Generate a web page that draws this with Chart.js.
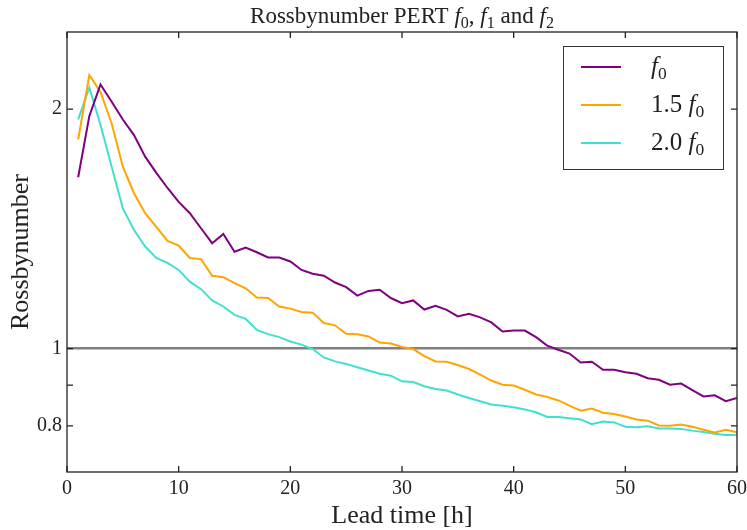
<!DOCTYPE html>
<html>
<head>
<meta charset="utf-8">
<script src="https://cdn.jsdelivr.net/npm/chart.js@4/dist/chart.umd.min.js"></script>
<style>
  html, body { margin: 0; padding: 0; background: #fff; }
  #wrap { width: 747px; height: 530px; }
</style>
</head>
<body>
<div id="wrap"><canvas id="rossbyChart"></canvas></div>
<script>
// lead time in hours
const leadTime = [1,2,3,4,5,6,7,8,9,10,11,12,13,14,15,16,17,18,19,20,
  21,22,23,24,25,26,27,28,29,30,31,32,33,34,35,36,37,38,39,40,
  41,42,43,44,45,46,47,48,49,50,51,52,53,54,55,56,57,58,59,60];

const rossbyF0 = [1.642,1.960,2.148,2.043,1.941,1.855,1.743,1.663,1.592,1.529,
  1.480,1.417,1.357,1.394,1.324,1.340,1.322,1.302,1.302,1.287,
  1.256,1.242,1.235,1.211,1.195,1.166,1.182,1.186,1.158,1.141,
  1.150,1.120,1.132,1.119,1.098,1.106,1.095,1.079,1.051,1.054,
  1.054,1.034,1.009,0.997,0.986,0.961,0.963,0.941,0.941,0.934,
  0.930,0.918,0.914,0.901,0.904,0.887,0.871,0.874,0.859,0.867];

const rossbyF15 = [1.832,2.206,2.102,1.919,1.693,1.568,1.480,1.423,1.366,1.348,
  1.300,1.296,1.235,1.230,1.209,1.191,1.160,1.158,1.130,1.123,
  1.112,1.110,1.077,1.070,1.044,1.043,1.036,1.018,1.015,1.005,
  0.999,0.979,0.964,0.963,0.954,0.943,0.928,0.912,0.901,0.899,
  0.888,0.876,0.870,0.861,0.848,0.836,0.841,0.831,0.828,0.822,
  0.815,0.812,0.801,0.800,0.803,0.798,0.791,0.785,0.791,0.785];

const rossbyF20 = [1.941,2.129,1.910,1.693,1.501,1.410,1.344,1.300,1.282,1.256,
  1.214,1.188,1.150,1.130,1.103,1.090,1.056,1.043,1.034,1.021,
  1.012,0.999,0.975,0.964,0.957,0.948,0.939,0.930,0.925,0.910,
  0.908,0.897,0.890,0.886,0.876,0.867,0.859,0.851,0.848,0.844,
  0.839,0.832,0.821,0.821,0.818,0.815,0.804,0.810,0.808,0.798,
  0.797,0.799,0.794,0.794,0.793,0.789,0.786,0.782,0.779,0.779];

const yTickValues = [0.8, 0.9, 1, 2];
const yTickLabels = [0.8, 1, 2];
const xTickValues = [0, 10, 20, 30, 40, 50, 60];

const serif = "'Liberation Serif', 'Times New Roman', serif";

function toPoints(ys) {
  return leadTime.map((t, i) => ({ x: t, y: ys[i] }));
}

// draw text with italic f and subscripts, like matplotlib mathtext
function drawMath(ctx, parts, x, y, size, align) {
  const fontFor = (p) => {
    if (p.sub) return (size * 0.7) + "px " + serif;
    if (p.it) return "italic " + size + "px " + serif;
    return size + "px " + serif;
  };
  let total = 0;
  parts.forEach(p => { ctx.font = fontFor(p); total += ctx.measureText(p.t).width; });
  let cx = align === "center" ? x - total / 2 : x;
  ctx.textAlign = "left";
  ctx.textBaseline = "alphabetic";
  parts.forEach(p => {
    ctx.font = fontFor(p);
    ctx.fillText(p.t, cx, p.sub ? y + size * 0.2 : y);
    cx += ctx.measureText(p.t).width;
  });
}

const framePlugin = {
  id: "frame",
  afterDraw(chart) {
    const ctx = chart.ctx;
    const a = chart.chartArea;
    const xs = chart.scales.x, ys = chart.scales.y;
    ctx.save();
    ctx.strokeStyle = "#222";
    ctx.lineWidth = 1.3;
    ctx.strokeRect(a.left, a.top, a.right - a.left, a.bottom - a.top);
    // inward ticks
    ctx.beginPath();
    xTickValues.forEach(v => {
      const px = xs.getPixelForValue(v);
      ctx.moveTo(px, a.bottom); ctx.lineTo(px, a.bottom - 6);
      ctx.moveTo(px, a.top); ctx.lineTo(px, a.top + 6);
    });
    yTickValues.forEach(v => {
      const py = ys.getPixelForValue(v);
      ctx.moveTo(a.left, py); ctx.lineTo(a.left + 6, py);
      ctx.moveTo(a.right, py); ctx.lineTo(a.right - 6, py);
    });
    ctx.stroke();

    // title
    ctx.fillStyle = "#222";
    drawMath(ctx, [
      { t: "Rossbynumber PERT " }, { t: "f", it: true }, { t: "0", sub: true },
      { t: ", " }, { t: "f", it: true }, { t: "1", sub: true },
      { t: " and " }, { t: "f", it: true }, { t: "2", sub: true }
    ], (a.left + a.right) / 2, 23, 23, "center");

    // legend
    const lx = 563, ly = 46, lw = 160, lh = 123;
    ctx.fillStyle = "#fff";
    ctx.fillRect(lx, ly, lw, lh);
    ctx.strokeStyle = "#333";
    ctx.lineWidth = 1;
    ctx.strokeRect(lx + 0.5, ly + 0.5, lw, lh);
    const rows = [
      [{ t: "f", it: true }, { t: "0", sub: true }],
      [{ t: "1.5 " }, { t: "f", it: true }, { t: "0", sub: true }],
      [{ t: "2.0 " }, { t: "f", it: true }, { t: "0", sub: true }]
    ];
    chart.data.datasets.forEach((ds, i) => {
      const ry = 67 + i * 38;
      ctx.strokeStyle = ds.borderColor;
      ctx.lineWidth = 2;
      ctx.beginPath();
      ctx.moveTo(581, ry); ctx.lineTo(621, ry);
      ctx.stroke();
      ctx.fillStyle = "#222";
      drawMath(ctx, rows[i], 651, ry + 7, 25, "left");
    });
    ctx.restore();
  }
};

new Chart(document.getElementById("rossbyChart"), {
  type: "line",
  data: {
    datasets: [
      { label: "f0", data: toPoints(rossbyF0), borderColor: "#800080", borderWidth: 2, pointRadius: 0, tension: 0 },
      { label: "1.5 f0", data: toPoints(rossbyF15), borderColor: "#ffa500", borderWidth: 2, pointRadius: 0, tension: 0 },
      { label: "2.0 f0", data: toPoints(rossbyF20), borderColor: "#40e0d0", borderWidth: 2, pointRadius: 0, tension: 0 }
    ]
  },
  options: {
    responsive: true,
    maintainAspectRatio: false,
    animation: false,
    layout: { padding: { top: 32, right: 10, left: 0, bottom: 0 } },
    plugins: {
      legend: { display: false },
      title: { display: false },
      tooltip: { enabled: false }
    },
    scales: {
      x: {
        type: "linear",
        min: 0,
        max: 60,
        afterBuildTicks: (scale) => { scale.ticks = xTickValues.map(v => ({ value: v })); },
        afterFit: (scale) => {
          scale.height = 58;
          scale.paddingLeft = 0;
          scale.paddingRight = 0;
        },
        grid: { display: false, drawTicks: false },
        border: { display: false },
        ticks: { color: "#222", padding: 5, maxRotation: 0, font: { family: serif, size: 20 } },
        title: {
          display: true, text: "Lead time [h]", color: "#222",
          font: { family: serif, size: 26, lineHeight: 1.2 }, padding: { top: 0, bottom: -2 }
        }
      },
      y: {
        type: "logarithmic",
        min: 0.7,
        max: 2.5,
        afterBuildTicks: (scale) => { scale.ticks = yTickValues.map(v => ({ value: v })); },
        afterFit: (scale) => { scale.width = 67; },
        grid: {
          drawTicks: false,
          lineWidth: 2.5,
          color: (c) => (c.tick && c.tick.value === 1) ? "#808080" : "rgba(0,0,0,0)"
        },
        border: { display: false },
        ticks: {
          color: "#222", padding: 5,
          font: { family: serif, size: 20 },
          callback: (v) => yTickLabels.includes(v) ? String(v) : ""
        },
        title: {
          display: true, text: "Rossbynumber", color: "#222",
          font: { family: serif, size: 26, lineHeight: 1.2 }, padding: { top: 6, bottom: 0 }
        }
      }
    }
  },
  plugins: [framePlugin]
});
</script>
</body>
</html>
